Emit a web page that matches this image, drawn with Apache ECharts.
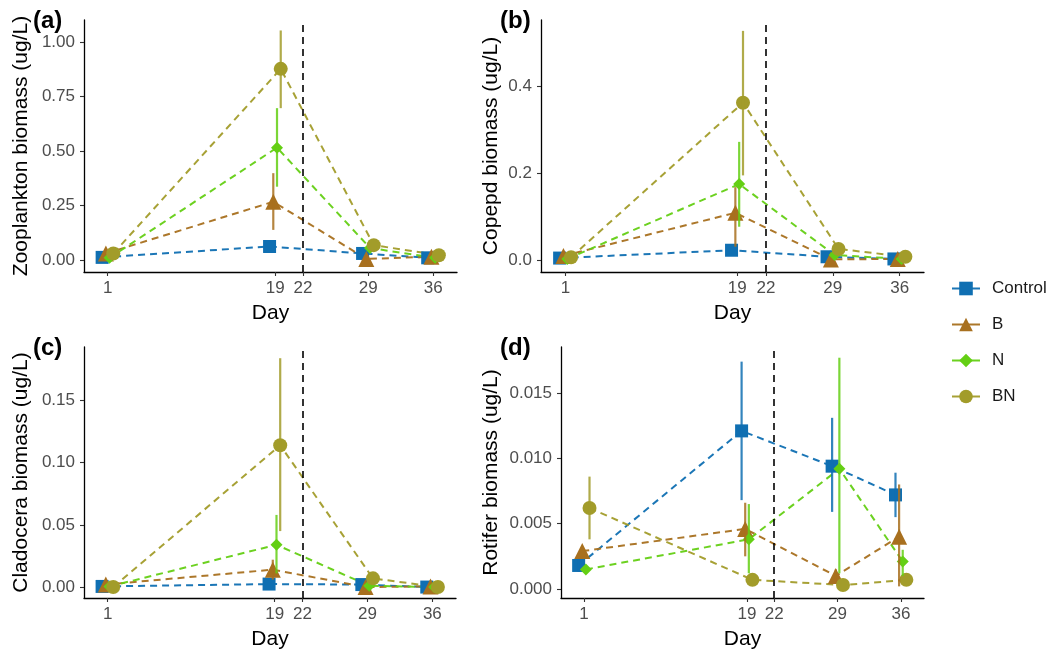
<!DOCTYPE html>
<html>
<head>
<meta charset="utf-8">
<script src="https://cdn.jsdelivr.net/npm/echarts@6/dist/echarts.min.js"></script>
<style>
html,body{margin:0;padding:0;background:#fff;}
#chart{width:1054px;height:654px;}
</style>
</head>
<body>
<div id="chart"></div>
<script>
// ---------- data ----------
const days = [1, 19, 29, 36];
const dayTicks = [1, 19, 22, 29, 36];
const treatmentDay = 22;
const groups = ['Control', 'B', 'N', 'BN'];

const panelLabels = ['(a)', '(b)', '(c)', '(d)'];
const yTitles = ['Zooplankton biomass (ug/L)', 'Copepd biomass (ug/L)', 'Cladocera biomass (ug/L)', 'Rotifer biomass (ug/L)'];

const zooTicks = [0, 0.25, 0.5, 0.75, 1.0];
const copTicks = [0, 0.2, 0.4];
const claTicks = [0, 0.05, 0.10, 0.15];
const rotTicks = [0, 0.005, 0.010, 0.015];

// means: rows = Control, B, N, BN ; columns = days
const zooMean = [
  [0.012, 0.062, 0.030, 0.010],
  [0.030, 0.267, 0.005, 0.015],
  [0.010, 0.515, 0.055, 0.010],
  [0.030, 0.876, 0.068, 0.022]
];
const zooLow = [
  [null, null, null, null],
  [null, 0.138, null, null],
  [null, 0.336, null, null],
  [null, 0.696, null, null]
];
const zooHigh = [
  [null, null, null, null],
  [null, 0.398, null, null],
  [null, 0.696, null, null],
  [null, 1.052, null, null]
];

const copMean = [
  [0.005, 0.023, 0.008, 0.003],
  [0.010, 0.109, 0.002, 0.003],
  [0.003, 0.175, 0.012, 0.003],
  [0.007, 0.362, 0.026, 0.008]
];
const copLow = [
  [null, null, null, null],
  [null, 0.031, null, null],
  [null, 0.077, null, null],
  [null, 0.195, null, null]
];
const copHigh = [
  [null, null, null, null],
  [null, 0.168, null, null],
  [null, 0.272, null, null],
  [null, 0.527, null, null]
];

const claMean = [
  [0.0005, 0.0024, 0.0020, 0.0000],
  [0.0020, 0.0140, 0.0000, 0.0005],
  [0.0005, 0.0340, 0.0010, 0.0000],
  [0.0000, 0.1140, 0.0070, 0.0000]
];
const claLow = [
  [null, null, null, null],
  [null, 0.006, null, null],
  [null, 0.011, null, null],
  [null, 0.045, null, null]
];
const claHigh = [
  [null, null, null, null],
  [null, 0.022, null, null],
  [null, 0.058, null, null],
  [null, 0.184, null, null]
];

const rotMean = [
  [0.0018, 0.0121, 0.0094, 0.0072],
  [0.0029, 0.0046, 0.0010, 0.0040],
  [0.0015, 0.0038, 0.0092, 0.0021],
  [0.0062, 0.0007, 0.0003, 0.0007]
];
const rotLow = [
  [0.0013, 0.0068, 0.0059, 0.0055],
  [null, 0.0025, 0.0005, 0.0002],
  [null, 0.0012, 0.0012, 0.0010],
  [0.0038, null, null, null]
];
const rotHigh = [
  [0.0023, 0.0174, 0.0131, 0.0089],
  [null, 0.0066, 0.0015, 0.0080],
  [null, 0.0065, 0.0177, 0.0030],
  [0.0086, null, null, null]
];

// ---------- styling / layout ----------
const colors = ['#0f6fb2', '#a8701f', '#64cf14', '#a29c2a'];
const symbols = ['rect', 'triangle', 'diamond', 'circle'];
const symbolSizes = [13, 16, 12, 14];
const dodge = [-0.6, -0.2, 0.2, 0.6];

const panels = [
  {mean: zooMean, low: zooLow, high: zooHigh, ticks: zooTicks, dec: 2, ymin: -0.055, ymax: 1.10,
   grid: {left: 84, right: 597, top: 20, bottom: 382}, nameGap: 52, label: [33, 9]},
  {mean: copMean, low: copLow, high: copHigh, ticks: copTicks, dec: 1, ymin: -0.027, ymax: 0.552,
   grid: {left: 541, right: 130, top: 20, bottom: 382}, nameGap: 39, label: [500, 9]},
  {mean: claMean, low: claLow, high: claHigh, ticks: claTicks, dec: 2, ymin: -0.0088, ymax: 0.193,
   grid: {left: 84, right: 598, top: 347, bottom: 56}, nameGap: 52, label: [33, 336]},
  {mean: rotMean, low: rotLow, high: rotHigh, ticks: rotTicks, dec: 3, ymin: -0.00069, ymax: 0.01852,
   grid: {left: 561, right: 130, top: 347, bottom: 56}, nameGap: 59, label: [500, 336]}
];

const FONT = '"Liberation Sans", Arial, Helvetica, sans-serif';
const grids = [], xAxes = [], yAxes = [], series = [], graphics = [];

panels.forEach((p, pi) => {
  grids.push(Object.assign({containLabel: false}, p.grid));
  xAxes.push({
    type: 'value', gridIndex: pi, min: -1.55, max: 38.55,
    name: 'Day', nameLocation: 'middle', nameGap: 31,
    nameTextStyle: {fontSize: 21, color: '#000', fontFamily: FONT},
    axisLine: {show: true, onZero: false, lineStyle: {color: '#000', width: 1.3}},
    axisTick: {show: true, length: 4, customValues: dayTicks, lineStyle: {color: '#333', width: 1.1}},
    axisLabel: {customValues: dayTicks, margin: 8, fontSize: 17, color: '#4d4d4d', fontFamily: FONT,
                formatter: v => String(Math.round(v))},
    splitLine: {show: false}
  });
  yAxes.push({
    type: 'value', gridIndex: pi, min: p.ymin, max: p.ymax,
    name: yTitles[pi], nameLocation: 'middle', nameGap: p.nameGap,
    nameTextStyle: {fontSize: 21, color: '#000', fontFamily: FONT},
    axisLine: {show: true, onZero: false, lineStyle: {color: '#000', width: 1.3}},
    axisTick: {show: true, length: 4, customValues: p.ticks, lineStyle: {color: '#333', width: 1.1}},
    axisLabel: {customValues: p.ticks, margin: 9, fontSize: 17, color: '#4d4d4d', fontFamily: FONT,
                formatter: v => Number(v).toFixed(p.dec)},
    splitLine: {show: false}
  });

  const errData = [];
  groups.forEach((g, gi) => {
    const s = {
      name: g, type: 'line', xAxisIndex: pi, yAxisIndex: pi,
      data: days.map((d, i) => [d + dodge[gi], p.mean[gi][i]]),
      symbol: symbols[gi], symbolSize: symbolSizes[gi],
      itemStyle: {color: colors[gi], opacity: 1},
      lineStyle: {color: colors[gi], type: [7, 5], width: 2, opacity: 0.95},
      z: 2, silent: true
    };
    if (gi === 0) {
      s.markLine = {
        silent: true, symbol: ['none', 'none'], label: {show: false},
        lineStyle: {color: '#000', type: [7, 5], width: 1.6},
        data: [{xAxis: treatmentDay}]
      };
    }
    series.push(s);
    days.forEach((d, i) => {
      if (p.low[gi][i] !== null) errData.push([d + dodge[gi], p.low[gi][i], p.high[gi][i], gi]);
    });
  });
  series.push({
    type: 'custom', name: 'err' + pi, xAxisIndex: pi, yAxisIndex: pi, z: 3, silent: true,
    data: errData, encode: {x: 0, y: [1, 2]},
    renderItem: (params, api) => {
      const x = api.value(0), lo = api.value(1), hi = api.value(2), g = api.value(3);
      const a = api.coord([x, lo]), b = api.coord([x, hi]);
      return {type: 'line', shape: {x1: a[0], y1: a[1], x2: b[0], y2: b[1]},
              style: {stroke: colors[g], lineWidth: 2.2, opacity: 0.85}};
    }
  });

  graphics.push({
    type: 'text', left: p.label[0], top: p.label[1],
    style: {text: panelLabels[pi], font: 'bold 24px ' + FONT, fill: '#000'}
  });
});

const chart = echarts.init(document.getElementById('chart'));
chart.setOption({
  animation: false,
  backgroundColor: '#fff',
  textStyle: {fontFamily: FONT},
  grid: grids, xAxis: xAxes, yAxis: yAxes, series: series, graphic: graphics,
  legend: {
    data: groups, orient: 'vertical', left: 946, top: 275,
    itemWidth: 28, itemHeight: 17, itemGap: 19,
    lineStyle: {type: 'solid', width: 2},
    textStyle: {fontSize: 17, color: '#1a1a1a', fontFamily: FONT, padding: [0, 0, 0, 7]}
  }
});
</script>
</body>
</html>
